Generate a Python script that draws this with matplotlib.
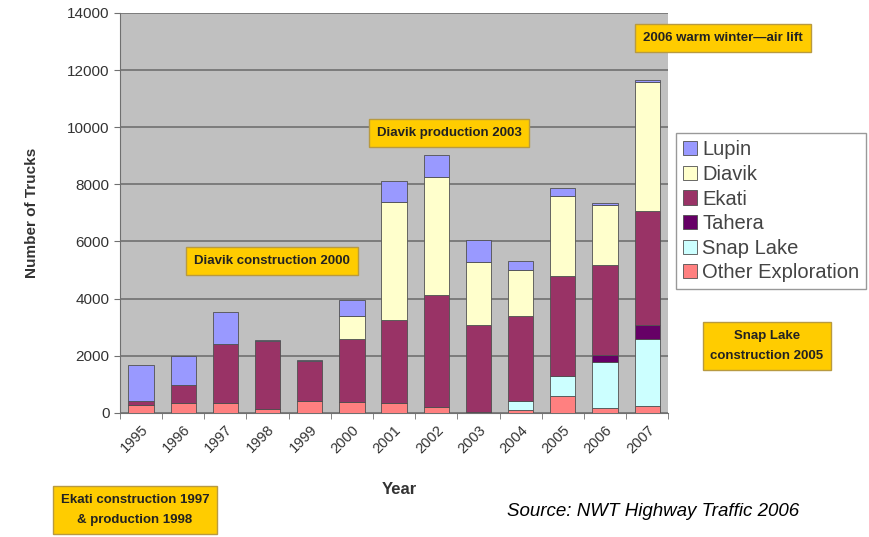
import numpy as np
import matplotlib
matplotlib.use("Agg")
import matplotlib.pyplot as plt

plt.rcParams['font.family'] = ['Liberation Sans', 'DejaVu Sans']

years = ['1995', '1996', '1997', '1998', '1999', '2000', '2001',
         '2002', '2003', '2004', '2005', '2006', '2007']

# stacked from the bottom up
other = [290, 350, 350, 140, 430, 400, 350, 210, 20, 100, 605, 175, 255]
snap_lake = [0, 0, 0, 0, 0, 0, 0, 0, 0, 330, 675, 1595, 2335]
tahera = [0, 0, 0, 0, 0, 0, 0, 0, 0, 0, 0, 270, 500]
ekati = [115, 620, 2065, 2380, 1400, 2190, 2890, 3930, 3070, 2975, 3525, 3150, 3965]
diavik = [0, 0, 0, 0, 0, 815, 4145, 4105, 2195, 1585, 2775, 2100, 4530]
lupin = [1260, 1040, 1105, 50, 30, 560, 720, 770, 755, 315, 280, 40, 80]

series = [
    ('Other Exploration', other, '#FF8080'),
    ('Snap Lake', snap_lake, '#CCFFFF'),
    ('Tahera', tahera, '#660066'),
    ('Ekati', ekati, '#993366'),
    ('Diavik', diavik, '#FFFFCC'),
    ('Lupin', lupin, '#9999FF'),
]

fig = plt.figure(figsize=(8.69, 5.37), dpi=100)
ax = fig.add_axes([0.138, 0.231, 0.631, 0.745])
ax.set_facecolor('#C0C0C0')

x = np.arange(len(years))
bottom = np.zeros(len(years))
handles = {}
for name, vals, col in series:
    b = ax.bar(x, vals, 0.6, bottom=bottom, color=col, edgecolor='#505050',
               linewidth=0.6, label=name, zorder=3)
    handles[name] = b
    bottom += np.array(vals)

ax.set_xlim(-0.5, len(years) - 0.5)
ax.set_ylim(0, 14000)
ax.set_yticks(range(0, 14001, 2000))
ax.yaxis.grid(True, color='#707070', linewidth=1.2, zorder=0)
ax.set_axisbelow(True)

ax.set_xticks(x)
ax.set_xticklabels(years, rotation=45, ha='right', rotation_mode='anchor',
                   fontsize=10.5, color='#333333')
ax.set_xticks(np.arange(-0.5, len(years)), minor=True)
ax.tick_params(axis='x', which='major', length=0, pad=7)
ax.tick_params(axis='x', which='minor', length=4, color='#707070')
ax.tick_params(axis='y', labelsize=11, color='#707070', labelcolor='#333333', length=4)

for s in ['top', 'right']:
    ax.spines[s].set_visible(False)
ax.spines['left'].set_color('#707070')
ax.spines['bottom'].set_color('#707070')

ax.set_ylabel('Number of Trucks', fontsize=11, fontweight='bold', color='#333333', labelpad=20)
fig.text(0.46, 0.088, 'Year', fontsize=12, fontweight='bold', color='#333333', ha='center', va='center')

order = ['Lupin', 'Diavik', 'Ekati', 'Tahera', 'Snap Lake', 'Other Exploration']
leg = fig.legend([handles[n] for n in order], order, loc='upper left',
                 bbox_to_anchor=(0.778, 0.752), fontsize=14.5, frameon=True,
                 fancybox=False, edgecolor='#808080', handlelength=0.7,
                 handleheight=0.7, handletextpad=0.25, labelspacing=0.28,
                 borderpad=0.35, borderaxespad=0, labelcolor='#444444')

box = dict(boxstyle='square,pad=0.6', facecolor='#FFCC00', edgecolor='#B89A40', linewidth=1)
notes = [
    (272, 261, 'Diavik construction 2000'),
    (449, 133, 'Diavik production 2003'),
    (723, 38, '2006 warm winter\u2014air lift'),
    (767, 346, 'Snap Lake\nconstruction 2005'),
    (135, 510, 'Ekati construction 1997\n& production 1998'),
]
for px, py, txt in notes:
    fig.text(px / 869, 1 - py / 537, txt, fontsize=9.5, fontweight='bold',
             ha='center', va='center', linespacing=1.9, color='#222222', bbox=box)

fig.text(0.92, 0.048, 'Source: NWT Highway Traffic 2006', fontsize=13.5,
         style='italic', ha='right', va='center')

fig.savefig('out.png', dpi=100)
